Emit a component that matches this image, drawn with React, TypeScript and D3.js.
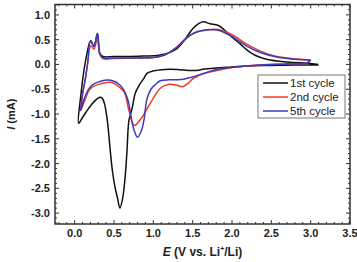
import React from "react";
import * as d3 from "d3";

// Cyclic voltammetry, 1st / 2nd / 5th cycles. Each scan starts at the upper
// potential, sweeps cathodically to ~0.05 V and returns anodically.
const cycle1E = [3.10, 2.80, 2.50, 2.20, 2.00, 1.80, 1.65, 1.55, 1.45, 1.30, 1.15, 1.00, 0.92, 0.88, 0.82, 0.77, 0.73, 0.69, 0.665, 0.64, 0.61, 0.575, 0.545, 0.51, 0.48, 0.45, 0.415, 0.38, 0.35, 0.32, 0.28, 0.22, 0.15, 0.10, 0.05,
  0.08, 0.12, 0.16, 0.19, 0.205, 0.245, 0.29, 0.32, 0.36, 0.50, 0.70, 0.90, 1.05, 1.15, 1.22, 1.30, 1.40, 1.50, 1.58, 1.64, 1.72, 1.82, 1.90, 2.00, 2.10, 2.20, 2.30, 2.45, 2.70, 3.00, 3.10];
const cycle1I = [-0.01, -0.01, -0.02, -0.03, -0.05, -0.07, -0.09, -0.12, -0.12, -0.10, -0.10, -0.13, -0.18, -0.28, -0.42, -0.58, -0.89, -1.13, -1.75, -2.30, -2.70, -2.90, -2.70, -2.45, -2.15, -1.70, -1.13, -0.80, -0.68, -0.66, -0.70, -0.80, -0.95, -1.07, -1.19,
  -0.60, -0.10, 0.25, 0.44, 0.48, 0.37, 0.62, 0.22, 0.16, 0.16, 0.16, 0.17, 0.18, 0.21, 0.25, 0.32, 0.50, 0.72, 0.83, 0.86, 0.82, 0.79, 0.70, 0.55, 0.42, 0.28, 0.18, 0.10, 0.05, 0.02, 0.00];

const cycle2E = [3.00, 2.95, 2.70, 2.36, 2.06, 1.81, 1.65, 1.51, 1.45, 1.37, 1.30, 1.20, 1.09, 1.00, 0.90, 0.84, 0.76, 0.69, 0.63, 0.54, 0.46, 0.33, 0.20, 0.12, 0.076,
  0.10, 0.14, 0.17, 0.19, 0.205, 0.245, 0.29, 0.32, 0.36, 0.50, 0.80, 1.00, 1.10, 1.18, 1.30, 1.39, 1.48, 1.56, 1.68, 1.80, 1.90, 2.00, 2.10, 2.20, 2.36, 2.57, 2.83, 3.00];
const cycle2I = [0.09, 0.03, 0.01, -0.01, -0.05, -0.12, -0.18, -0.28, -0.37, -0.45, -0.42, -0.40, -0.48, -0.68, -0.95, -1.10, -1.23, -0.93, -0.56, -0.42, -0.36, -0.39, -0.49, -0.76, -0.93,
  -0.60, -0.25, 0.09, 0.33, 0.38, 0.31, 0.55, 0.20, 0.12, 0.12, 0.13, 0.14, 0.17, 0.22, 0.35, 0.48, 0.60, 0.66, 0.69, 0.71, 0.67, 0.60, 0.50, 0.40, 0.27, 0.16, 0.11, 0.09];

const cycle5E = [3.00, 2.95, 2.70, 2.36, 2.06, 1.81, 1.60, 1.51, 1.45, 1.38, 1.30, 1.20, 1.09, 1.03, 0.97, 0.92, 0.88, 0.85, 0.80, 0.76, 0.73, 0.67, 0.58, 0.46, 0.33, 0.20, 0.12, 0.076,
  0.10, 0.14, 0.17, 0.19, 0.205, 0.245, 0.29, 0.32, 0.36, 0.50, 0.80, 1.00, 1.10, 1.18, 1.30, 1.39, 1.48, 1.56, 1.68, 1.78, 1.85, 1.98, 2.08, 2.20, 2.36, 2.57, 2.83, 3.00];
const cycle5I = [0.09, 0.03, 0.01, -0.01, -0.05, -0.10, -0.20, -0.25, -0.27, -0.30, -0.31, -0.31, -0.33, -0.40, -0.50, -0.69, -1.13, -1.33, -1.47, -1.35, -1.17, -0.68, -0.42, -0.32, -0.34, -0.45, -0.70, -0.93,
  -0.60, -0.25, 0.09, 0.44, 0.48, 0.36, 0.63, 0.22, 0.13, 0.13, 0.13, 0.14, 0.17, 0.22, 0.35, 0.49, 0.60, 0.66, 0.70, 0.70, 0.68, 0.58, 0.48, 0.36, 0.24, 0.15, 0.10, 0.09];

const seriesNames = ["1st cycle", "2nd cycle", "5th cycle"];
const seriesColors = ["#111111", "#ee3b24", "#3b3bbd"];

const xTickValues = [0, 0.5, 1.0, 1.5, 2.0, 2.5, 3.0, 3.5];
const yTickValues = [1.0, 0.5, 0.0, -0.5, -1.0, -1.5, -2.0, -2.5, -3.0];

const W = 357;
const H = 262;
const plot = { left: 55, right: 350, top: 4.5, bottom: 224 };

export default function App() {
  const x = d3.scaleLinear().domain([-0.25, 3.5]).range([plot.left, plot.right]);
  const y = d3.scaleLinear().domain([-3.22, 1.21]).range([plot.bottom, plot.top]);

  const series = [
    { E: cycle1E, I: cycle1I },
    { E: cycle2E, I: cycle2I },
    { E: cycle5E, I: cycle5I },
  ];

  const line = d3
    .line<[number, number]>()
    .x((d) => x(d[0]))
    .y((d) => y(d[1]))
    .curve(d3.curveCatmullRom.alpha(0.5));

  const xMinor = d3.range(-0.2, 3.5001, 0.1).map((v) => Math.round(v * 10) / 10);
  const yMinor = d3.range(-3.2, 1.2001, 0.1).map((v) => Math.round(v * 10) / 10);
  const isMajor = (v: number) => Math.abs(v * 2 - Math.round(v * 2)) < 1e-6;

  const axisColor = "#333";
  const font = "'Liberation Sans', Arial, sans-serif";

  return (
    <svg width={W} height={H} style={{ display: "block", position: "absolute", left: 0, top: 0 }}>
      <rect width={W} height={H} fill="#fff" />

      {/* curves */}
      <g fill="none" strokeWidth={1.5} strokeLinejoin="round">
        {series.map((s, k) => (
          <path
            key={k}
            d={line(s.E.map((e, i) => [e, s.I[i]] as [number, number])) || ""}
            stroke={seriesColors[k]}
          />
        ))}
      </g>

      {/* ticks, all four sides, pointing inward */}
      <g stroke={axisColor} strokeWidth={1}>
        {xMinor.map((v) => {
          const len = isMajor(v) ? 4 : 2;
          const px = x(v);
          return (
            <g key={"x" + v}>
              <line x1={px} x2={px} y1={plot.bottom} y2={plot.bottom - len} />
              <line x1={px} x2={px} y1={plot.top} y2={plot.top + len} />
            </g>
          );
        })}
        {yMinor.map((v) => {
          const len = isMajor(v) ? 4 : 2;
          const py = y(v);
          return (
            <g key={"y" + v}>
              <line x1={plot.left} x2={plot.left + len} y1={py} y2={py} />
              <line x1={plot.right} x2={plot.right - len} y1={py} y2={py} />
            </g>
          );
        })}
      </g>

      {/* frame */}
      <rect
        x={plot.left}
        y={plot.top}
        width={plot.right - plot.left}
        height={plot.bottom - plot.top}
        fill="none"
        stroke={axisColor}
        strokeWidth={1.5}
      />

      {/* tick labels */}
      <g fontFamily={font} fontSize={11} fontWeight="bold" fill="#222">
        {xTickValues.map((v) => (
          <text key={"xl" + v} x={x(v)} y={plot.bottom + 13} textAnchor="middle">
            {v.toFixed(1)}
          </text>
        ))}
        {yTickValues.map((v) => (
          <text key={"yl" + v} x={plot.left - 5} y={y(v) + 4} textAnchor="end">
            {v.toFixed(1)}
          </text>
        ))}
      </g>

      {/* axis titles */}
      <text
        x={(plot.left + plot.right) / 2}
        y={256}
        textAnchor="middle"
        fontFamily={font}
        fontSize={12}
        fontWeight="bold"
        fill="#222"
      >
        <tspan fontStyle="italic">E</tspan>
        <tspan> (V vs. Li</tspan>
        <tspan fontSize={7} dy={-5}>+</tspan>
        <tspan dy={5}>/Li)</tspan>
      </text>
      <text
        transform={`translate(15, ${(plot.top + plot.bottom) / 2}) rotate(-90)`}
        textAnchor="middle"
        fontFamily={font}
        fontSize={11}
        fontWeight="bold"
        fill="#222"
      >
        <tspan fontStyle="italic">I</tspan>
        <tspan> (mA)</tspan>
      </text>

      {/* legend */}
      <g>
        <rect x={258} y={75} width={87} height={43} fill="#fff" stroke="#777" strokeWidth={1} />
        {seriesNames.map((name, k) => {
          const ly = 83 + k * 14;
          return (
            <g key={name}>
              <line x1={263} x2={288} y1={ly} y2={ly} stroke={seriesColors[k]} strokeWidth={1.5} />
              <text x={290} y={ly + 4} fontFamily={font} fontSize={11.5} fill="#222">
                {name}
              </text>
            </g>
          );
        })}
      </g>
    </svg>
  );
}
